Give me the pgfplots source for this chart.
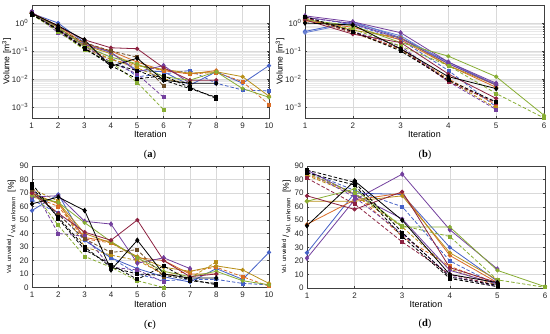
\documentclass[border=0pt]{standalone}
\usepackage{pgfplots}
\pgfplotsset{compat=1.18}
\usepackage{fontspec}
\setmainfont{Liberation Sans}
\newfontfamily\capfont{Liberation Serif}
\definecolor{mblue}{rgb}{0.27,0.38,0.78}
\definecolor{morange}{rgb}{0.85,0.42,0.15}
\definecolor{mochre}{rgb}{0.72,0.56,0.10}
\definecolor{mpurple}{rgb}{0.45,0.25,0.62}
\definecolor{mgreen}{rgb}{0.53,0.68,0.20}
\definecolor{mmaroon}{rgb}{0.55,0.13,0.25}
\definecolor{mbrown}{rgb}{0.42,0.30,0.15}
\pgfplotsset{
  myBase/.style={scale only axis, font=\fontsize{8}{9}\selectfont,
    /pgf/number format/assume math mode=true,
    axis line style={draw=black!75, line width=0.4pt},
    tick style={black!75, line width=0.3pt}, tick align=inside,
    major tick length=2pt, minor tick length=1pt,
    ticklabel style={text=black!85},
    xticklabel style={yshift=-1pt},
    xlabel={Iteration}, xlabel style={font=\fontsize{9}{10}\selectfont, yshift=4pt},
    major grid style={black!15, line width=0.3pt},
    minor grid style={black!9, line width=0.25pt},
    every axis plot/.append style={line width=0.8pt, mark size=1.7pt},
    clip=false},
  myLog/.style={myBase, ymin=4e-4, ymax=4.4,
    ytick={1e-3,1e-2,1e-1,1},
    yticklabels={10\textsuperscript{−3},10\textsuperscript{−2},10\textsuperscript{−1},10\textsuperscript{0}},
    ylabel style={font=\fontsize{8.5}{10}\selectfont, yshift=-6pt},
    ymajorgrids, yminorgrids, xmajorgrids, ylabel={Volume [m\textsuperscript{3}]}},
  myLin/.style={myBase, ymin=0, ymax=90, ytick={0,10,...,90}, xmajorgrids, ymajorgrids,
    ylabel style={font=\fontsize{8.5}{10}\selectfont, yshift=-3pt},
    ylabel={\textsuperscript{Vol. unveiled}\,/\,\textsubscript{Vol. unknown}\ \ [\%]}},
  mySol/.style={solid, mark=*, mark options={solid}},
  myDia/.style={solid, mark=diamond*, mark size=2.2pt, mark options={solid}},
  myDas/.style={dashed, dash pattern=on 3.5pt off 2pt, mark=square*, mark size=1.5pt, mark options={solid}},
}
\begin{document}
\begin{tikzpicture}
\useasboundingbox (0pt,0pt) rectangle (550pt,334pt);
% (a)
\begin{axis}[ymode=log, myLog, at={(31.7pt,216pt)}, anchor=south west, width=237.3pt, height=113pt,
  xmin=1, xmax=10, xtick={1,...,10}]
\addplot[mySol, mblue] coordinates {(1,2.2)(2,1.0)(3,0.2)(4,0.09)(5,0.02)(6,0.018)(7,0.006)(8,0.018)(9,0.007)(10,0.03)};
\addplot[myDas, mblue] coordinates {(1,2.0)(2,0.7)(3,0.15)(4,0.06)(5,0.012)(6,0.015)(7,0.02)(8,0.007)(9,0.004)(10,0.0037)};
\addplot[mySol, morange] coordinates {(1,2.3)(2,0.8)(3,0.18)(4,0.1)(5,0.04)(6,0.02)(7,0.015)(8,0.02)};
\addplot[myDas, morange] coordinates {(1,2.1)(2,0.6)(3,0.14)(4,0.05)(5,0.03)(6,0.02)(7,0.015)(8,0.017)(9,0.008)(10,0.0012)};
\addplot[mySol, mochre] coordinates {(1,2.2)(2,0.7)(3,0.16)(4,0.08)(5,0.03)(6,0.022)(7,0.016)(8,0.018)(9,0.012)(10,0.0024)};
\addplot[myDas, mochre] coordinates {(1,2.0)(2,0.55)(3,0.12)(4,0.05)(5,0.025)(6,0.01)(7,0.007)};
\addplot[myDia, mpurple] coordinates {(1,2.5)(2,0.55)(3,0.17)(4,0.09)(5,0.018)(6,0.03)(7,0.007)};
\addplot[myDas, mpurple] coordinates {(1,2.4)(2,0.45)(3,0.15)(4,0.04)(5,0.015)(6,0.0022)};
\addplot[mySol, mgreen] coordinates {(1,2.2)(2,0.7)(3,0.15)(4,0.06)(5,0.035)(6,0.012)(7,0.009)(8,0.018)(9,0.0045)(10,0.0022)};
\addplot[myDas, mgreen] coordinates {(1,2.0)(2,0.5)(3,0.11)(4,0.04)(5,0.0075)(6,0.0008)};
\addplot[mySol, mmaroon] coordinates {(1,2.3)(2,0.75)(3,0.25)(4,0.13)(5,0.12)(6,0.025)(7,0.009)(8,0.009)};
\addplot[myDas, mbrown] coordinates {(1,2.1)(2,0.6)(3,0.2)(4,0.1)(5,0.06)(6,0.0055)};
\addplot[myDia, black] coordinates {(1,2.2)(2,0.8)(3,0.25)(4,0.028)(5,0.055)(6,0.009)(7,0.007)(8,0.007)};
\addplot[myDas, black] coordinates {(1,2.0)(2,0.6)(3,0.13)(4,0.03)(5,0.01)(6,0.013)(7,0.005)(8,0.002)};
\addplot[myDas, black] coordinates {(1,2.1)(2,0.55)(3,0.12)(4,0.035)(5,0.02)(6,0.009)(7,0.0045)(8,0.0022)};
\end{axis}
% (b)
\begin{axis}[ymode=log, myLog, at={(305pt,216pt)}, anchor=south west, width=239pt, height=113pt,
  xmin=1, xmax=6, xtick={1,...,6}]
\addplot[mySol, mblue] coordinates {(1,0.5)(2,1.1)(3,0.3)(4,0.04)(5,0.006)};
\addplot[mySol, mblue!80!white] coordinates {(1,0.45)(2,1.0)(3,0.35)(4,0.035)(5,0.0065)};
\addplot[myDas, mblue] coordinates {(1,1.6)(2,0.9)(3,0.25)(4,0.02)(5,0.001)};
\addplot[mySol, morange] coordinates {(1,1.2)(2,0.7)(3,0.25)(4,0.03)(5,0.005)};
\addplot[myDas, morange] coordinates {(1,1.5)(2,0.5)(3,0.12)(4,0.01)(5,0.0012)};
\addplot[mySol, mochre] coordinates {(1,1.4)(2,0.55)(3,0.3)(4,0.03)(5,0.006)};
\addplot[myDas, mochre] coordinates {(1,1.5)(2,0.45)(3,0.11)(4,0.009)(5,0.0009)};
\addplot[myDia, mpurple] coordinates {(1,1.8)(2,1.1)(3,0.45)(4,0.04)(5,0.007)};
\addplot[mySol, mpurple] coordinates {(1,1.6)(2,0.95)(3,0.28)(4,0.035)(5,0.006)};
\addplot[myDas, mpurple] coordinates {(1,1.7)(2,0.5)(3,0.15)(4,0.008)(5,0.0008)};
\addplot[mySol, mgreen] coordinates {(1,1.3)(2,0.8)(3,0.2)(4,0.065)(5,0.012)(6,0.0005)};
\addplot[myDas, mgreen] coordinates {(1,1.4)(2,0.6)(3,0.15)(4,0.03)(5,0.003)(6,0.0004)};
\addplot[mySol, mmaroon] coordinates {(1,1.3)(2,0.4)(3,0.2)(4,0.015)(5,0.002)};
\addplot[myDas, mmaroon] coordinates {(1,1.6)(2,0.45)(3,0.12)(4,0.008)(5,0.0014)};
\addplot[myDia, black] coordinates {(1,1.0)(2,0.85)(3,0.12)(4,0.012)(5,0.0045)};
\addplot[myDas, black] coordinates {(1,1.7)(2,0.5)(3,0.1)(4,0.009)(5,0.0015)};
\end{axis}
% (c)
\begin{axis}[myLin, at={(32pt,46.5pt)}, anchor=south west, width=237pt, height=121.5pt,
  xmin=1, xmax=10, xtick={1,...,10}]
\addplot[mySol, mblue] coordinates {(1,57)(2,69)(3,35)(4,22)(5,14)(6,8)(7,4)(8,14)(9,6)(10,26)};
\addplot[myDas, mblue] coordinates {(1,65)(2,55)(3,35)(4,22)(5,10)(6,5)(7,6)(8,6)(9,3)(10,2)};
\addplot[mySol, morange] coordinates {(1,70)(2,62)(3,37)(4,34)(5,22)(6,20)(7,10)(8,10)};
\addplot[myDas, morange] coordinates {(1,68)(2,60)(3,36)(4,33)(5,22)(6,9)(7,12)(8,15)(9,8)(10,1)};
\addplot[mySol, mochre] coordinates {(1,67)(2,63)(3,40)(4,33)(5,23)(6,15)(7,12)(8,16)(9,13)(10,3)};
\addplot[myDas, mochre] coordinates {(1,73)(2,64)(3,30)(4,24)(5,20)(6,10)(7,7)(8,19)};
\addplot[myDia, mpurple] coordinates {(1,67)(2,68)(3,49)(4,47)(5,18)(6,22)(7,14)};
\addplot[myDas, mpurple] coordinates {(1,75)(2,40)(3,38)(4,15)(5,13)(6,4)};
\addplot[mySol, mgreen] coordinates {(1,68)(2,63)(3,48)(4,34)(5,22)(6,12)(7,8)(8,12)(9,5)(10,2)};
\addplot[myDas, mgreen] coordinates {(1,72)(2,46)(3,23)(4,15)(5,5)(6,0)};
\addplot[mySol, mmaroon] coordinates {(1,70)(2,55)(3,41)(4,35)(5,50)(6,20)(7,8)(8,10)};
\addplot[myDas, mbrown] coordinates {(1,72)(2,54)(3,36)(4,26)(5,28)(6,8)};
\addplot[myDia, black] coordinates {(1,62)(2,67)(3,57)(4,13)(5,35)(6,10)(7,7)(8,7)};
\addplot[myDas, black] coordinates {(1,77)(2,51)(3,28)(4,17)(5,6)(6,16)(7,5)(8,3)};
\addplot[myDas, black] coordinates {(1,74)(2,52)(3,30)(4,15)(5,10)(6,9)(7,6)(8,2)};
\end{axis}
% (d)
\begin{axis}[myLin, at={(307pt,46pt)}, anchor=south west, width=238pt, height=122pt,
  xmin=1, xmax=6, xtick={1,...,6}]
\addplot[mySol, mblue] coordinates {(1,26)(2,70)(3,69)(4,30)(5,5)};
\addplot[myDas, mblue] coordinates {(1,86)(2,72)(3,60)(4,20)(5,2)};
\addplot[mySol, morange] coordinates {(1,47)(2,65)(3,70)(4,24)(5,4)};
\addplot[myDas, morange] coordinates {(1,84)(2,70)(3,38)(4,16)(5,3)};
\addplot[mySol, mochre] coordinates {(1,64)(2,64)(3,68)(4,26)(5,6)};
\addplot[myDas, mochre] coordinates {(1,83)(2,69)(3,45)(4,14)(5,2)};
\addplot[myDia, mpurple] coordinates {(1,22)(2,65)(3,84)(4,43)(5,14)};
\addplot[mySol, mpurple] coordinates {(1,87)(2,69)(3,51)(4,13)(5,3)};
\addplot[myDas, mpurple] coordinates {(1,86)(2,67)(3,40)(4,9)(5,1)};
\addplot[mySol, mgreen] coordinates {(1,64)(2,73)(3,45)(4,45)(5,13)(6,1)};
\addplot[myDas, mgreen] coordinates {(1,85)(2,70)(3,46)(4,38)(5,6)(6,0.5)};
\addplot[mySol, mmaroon] coordinates {(1,68)(2,58)(3,71)(4,15)(5,4)};
\addplot[myDas, mmaroon] coordinates {(1,81)(2,62)(3,34)(4,10)(5,2)};
\addplot[myDia, black] coordinates {(1,46)(2,79)(3,50)(4,10)(5,4)};
\addplot[myDas, black] coordinates {(1,87)(2,78)(3,41)(4,8)(5,2)};
\addplot[myDas, black] coordinates {(1,85)(2,76)(3,38)(4,7)(5,1)};
\end{axis}
\node[font=\capfont\fontsize{10.5}{12}\selectfont] at (150pt,179pt) {(\textbf{a})};
\node[font=\capfont\fontsize{10.5}{12}\selectfont] at (425pt,179pt) {(\textbf{b})};
\node[font=\capfont\fontsize{10.5}{12}\selectfont] at (150pt,9pt) {(\textbf{c})};
\node[font=\capfont\fontsize{10.5}{12}\selectfont] at (425pt,10pt) {(\textbf{d})};
\end{tikzpicture}
\end{document}
